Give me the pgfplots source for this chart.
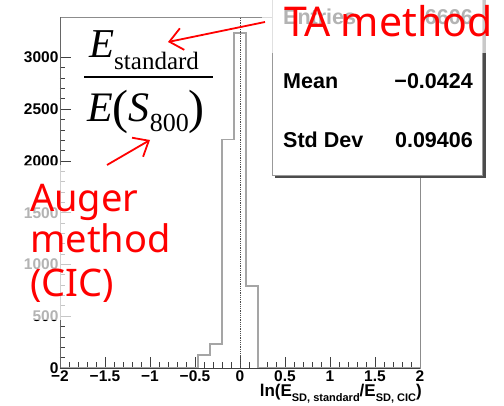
\documentclass[border=0pt]{standalone}
\usepackage{pgfplots}
\pgfplotsset{compat=1.18}
\usepackage{fontspec}
\setmainfont{Liberation Sans}
\newfontfamily\tms{Liberation Serif}
\newfontfamily\noto{Noto Sans}
\usetikzlibrary{arrows.meta}
\definecolor{histgray}{RGB}{165,165,165}
\definecolor{framegray}{RGB}{140,140,140}
\begin{document}
\begin{tikzpicture}[x=1pt,y=1pt]
\useasboundingbox (0,0) rectangle (504,405);
\begin{axis}[
  at={(60pt,37pt)}, anchor=south west,
  width=360pt, height=351pt, scale only axis,
  xmin=-2, xmax=2, ymin=0, ymax=3391,
  xtick={-2,-1.5,-1,-0.5,0,0.5,1,1.5,2},
  xticklabels={−2,−1.5,−1,−0.5,0,0.5,1,1.5,2},
  ytick={0,500,1000,1500,2000,2500,3000},
  minor x tick num=4, minor y tick num=4,
  xtick pos=bottom, ytick pos=left, tick align=inside,
  major tick length=11pt, minor tick length=5.5pt,
  tick style={black!75, line width=0.8pt},
  axis line style={draw=framegray, line width=0.8pt},
  /pgf/number format/assume math mode=true,
  /pgf/number format/1000 sep={},
  tick label style={font=\bfseries\fontsize{15.5}{15.5}\selectfont},
  yticklabel style={xshift=2pt},
  xticklabel style={yshift=1pt},
  scaled y ticks=false,
  clip=false,
]
% event counts per bin (bin width 4/30)
\addplot[const plot, histgray, line width=1.4pt] coordinates {
  (-2,0) (-0.4667,125) (-0.3333,232) (-0.2,2210)
  (-0.0667,3237) (0.0667,792) (0.2,0) (2,0)};
\addplot[densely dotted, black!70, line width=0.8pt] coordinates {(0,0) (0,3391)};
\draw[black!75, line width=1pt] (rel axis cs:0,0) -- (rel axis cs:1,0);
\draw[black!60, line width=0.8pt] (rel axis cs:0,0) -- (rel axis cs:0,1);
\end{axis}

% x axis title
\node[anchor=base east, inner sep=0pt, font=\bfseries\fontsize{17}{17}\selectfont]
  at (422,9) {ln(E\raisebox{-5pt}{\fontsize{11}{11}\selectfont SD, standard}/E\raisebox{-5pt}{\fontsize{11}{11}\selectfont SD, CIC})};

% statistics box
\fill[black!70] (275,227) rectangle (486,415);
\fill[white] (272,230) rectangle (482,415);
\draw[black!40, line width=0.8pt] (272,230) rectangle (482,415);
\begin{scope}[font=\bfseries\fontsize{21.5}{21.5}\selectfont, inner sep=0pt]
\node[anchor=base west] at (283,380) {Entries};
\node[anchor=base east] at (473,380) {6606};
\node[anchor=base west] at (283,316) {Mean};
\node[anchor=base east] at (473,316) {−0.0424};
\node[anchor=base west] at (283,257) {Std Dev};
\node[anchor=base east] at (473,257) {0.09406};
\end{scope}

% translucent backgrounds of the annotations
\fill[white, opacity=0.7] (262,352) rectangle (492,405);
\fill[white, opacity=0.7] (0,85) rectangle (178,240);

% energy ratio
\node[anchor=base west, inner sep=0pt] at (89,347)
  {\tms\fontsize{41}{41}\selectfont\itshape E\upshape\raisebox{-12pt}{\fontsize{25}{25}\selectfont standard}};
\draw[black, line width=1.4pt] (84,328) -- (213,328);
\node[anchor=base west, inner sep=0pt] at (87,283)
  {\tms\fontsize{42}{42}\selectfont\itshape E\upshape\raisebox{-2pt}{\fontsize{48}{48}\selectfont(}\itshape S\upshape\raisebox{-10pt}{\fontsize{26}{26}\selectfont 800}\raisebox{-2pt}{\fontsize{48}{48}\selectfont)}};

% red annotations
\begin{scope}[red, font=\noto\fontsize{38}{38}\selectfont, inner sep=0pt]
\node[anchor=base west, font=\noto\fontsize{41}{41}\selectfont] at (284,368) {TA method};
\node[anchor=base west] at (30,193) {Auger};
\node[anchor=base west] at (30,152) {method};
\node[anchor=base west] at (30,108) {(CIC)};
\end{scope}
\draw[red, line width=1.8pt, -{Straight Barb[length=13pt,width=22pt,line width=1.8pt]}] (265,383) -- (168,363);
\draw[red, line width=1.8pt, -{Straight Barb[length=13pt,width=22pt,line width=1.8pt]}] (107,240) -- (150,265);
\end{tikzpicture}
\end{document}
